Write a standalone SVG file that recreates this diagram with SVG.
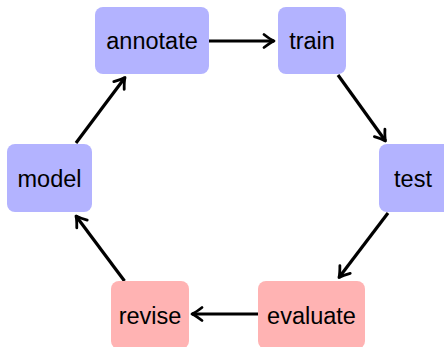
<svg xmlns="http://www.w3.org/2000/svg" width="444" height="347" viewBox="0 0 444 347">
  <style>
    .blue { fill: #b3b3ff; }
    .red { fill: #ffb3b3; }
    .label { font-family: "Liberation Sans", Arial, sans-serif; font-size: 23.5px; fill: #000; text-anchor: middle; }
    .edge { fill: none; stroke: #000; stroke-width: 3.2; marker-end: url(#tip); }
  </style>
  <defs>
    <marker id="tip" markerUnits="userSpaceOnUse" viewBox="-13 -9 16 18" refX="0" refY="0" markerWidth="16" markerHeight="18" orient="auto" overflow="visible">
      <path d="M -10,-6.5 Q -4,-1.8 0,0 Q -4,1.8 -10,6.5" fill="none" stroke="#000" stroke-width="2.8" stroke-linecap="round" stroke-linejoin="round"/>
    </marker>
  </defs>

  <rect width="444" height="347" fill="#fff"/>

  <g id="connectors">
    <line class="edge" x1="209" y1="41" x2="274" y2="41"/>
    <line class="edge" x1="338" y1="75" x2="385.5" y2="141"/>
    <line class="edge" x1="388" y1="213" x2="339" y2="277.5"/>
    <line class="edge" x1="258" y1="314" x2="192" y2="314"/>
    <line class="edge" x1="124.5" y1="281" x2="76" y2="216"/>
    <line class="edge" x1="76" y1="143" x2="125" y2="77.5"/>
  </g>

  <g id="annotate">
    <rect class="blue" x="95" y="7" width="114" height="67" rx="8"/>
    <text class="label" x="152" y="49">annotate</text>
  </g>
  <g id="train">
    <rect class="blue" x="278" y="7" width="68" height="67" rx="8"/>
    <text class="label" x="312" y="49">train</text>
  </g>
  <g id="test">
    <rect class="blue" x="379" y="144" width="72" height="68" rx="8"/>
    <text class="label" x="413" y="186.5">test</text>
  </g>
  <g id="evaluate">
    <rect class="red" x="258" y="281" width="107" height="68" rx="8"/>
    <text class="label" x="311.5" y="323.5">evaluate</text>
  </g>
  <g id="revise">
    <rect class="red" x="111" y="281" width="78" height="68" rx="8"/>
    <text class="label" x="150" y="323.5">revise</text>
  </g>
  <g id="model">
    <rect class="blue" x="7" y="144" width="85" height="68" rx="8"/>
    <text class="label" x="49.5" y="186.5">model</text>
  </g>
</svg>
